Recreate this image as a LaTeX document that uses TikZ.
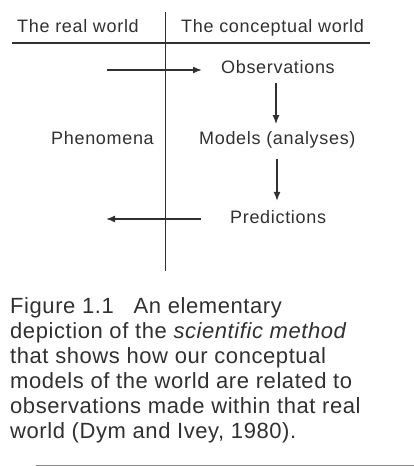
\documentclass[tikz,border=0pt]{standalone}
\usepackage{fontspec}
\setmainfont{Liberation Sans}
\newfontfamily\hdfont[LetterSpace=3.8]{Liberation Sans}
\newfontfamily\capfont[LetterSpace=2.6]{Liberation Sans}
\usetikzlibrary{arrows.meta}
\definecolor{ink}{HTML}{303030}
\definecolor{rule}{HTML}{8A8A8A}
\tikzset{
  lbl/.style={inner sep=0pt, anchor=base west, text=ink, font=\hdfont\fontsize{18}{21}\selectfont},
  capt/.style={inner sep=0pt, anchor=north west, align=left, text=ink, font=\capfont\fontsize{22}{25}\selectfont},
  axis/.style={draw=ink, line width=1.6pt},
  arr/.style={draw=ink, line width=1.5pt, -{Latex[length=9pt,width=7pt]}},
}
\begin{document}
\begin{tikzpicture}[x=1pt,y=-1pt]
\useasboundingbox (0,0) rectangle (414,466);
% axes
\coordinate (vtop) at (165.5,12);
\coordinate (vbot) at (165.5,271);
\coordinate (hl) at (12,43);
\coordinate (hr) at (370,43);
\draw[axis] (vtop) -- (vbot);
\draw[axis] (hl) -- (hr);
% headers
\node[lbl] (real) at (17,32.3) {The real world};
\node[lbl] (conc) at (181,32.3) {The conceptual world};
% labels
\node[lbl] (obs) at (221,73.3) {Observations};
\node[lbl] (phen) at (51,144) {Phenomena};
\node[lbl] (mod) at (199,144) {Models (analyses)};
\node[lbl] (pred) at (230,223) {Predictions};
% arrows
\coordinate (inA) at (107,70);
\coordinate (outA) at (106,219);
\draw[arr] (inA) -- ([xshift=-19pt]inA -| obs.west);
\draw[arr, shorten <=9.7pt, shorten >=6.6pt] (obs.south -| 276,0) -- (mod.north -| 276,0);
\draw[arr, shorten <=11.4pt, shorten >=8.8pt] (mod.south -| 277,0) -- (pred.north -| 277,0);
\draw[arr] ([xshift=-29pt]outA -| pred.west) -- (outA);
% caption
\node[capt] (cap) at (10,297) {Figure 1.1\hspace{0.6em} An elementary\\
depiction of the \textit{scientific method}\\
that shows how our conceptual\\
models of the world are related to\\
observations made within that real\\
world (Dym and Ivey, 1980).};
\coordinate (rl) at (36,465);
\coordinate (rr) at (414,465);
\draw[rule, line width=1pt] (rl) -- (rr);
\end{tikzpicture}
\end{document}
